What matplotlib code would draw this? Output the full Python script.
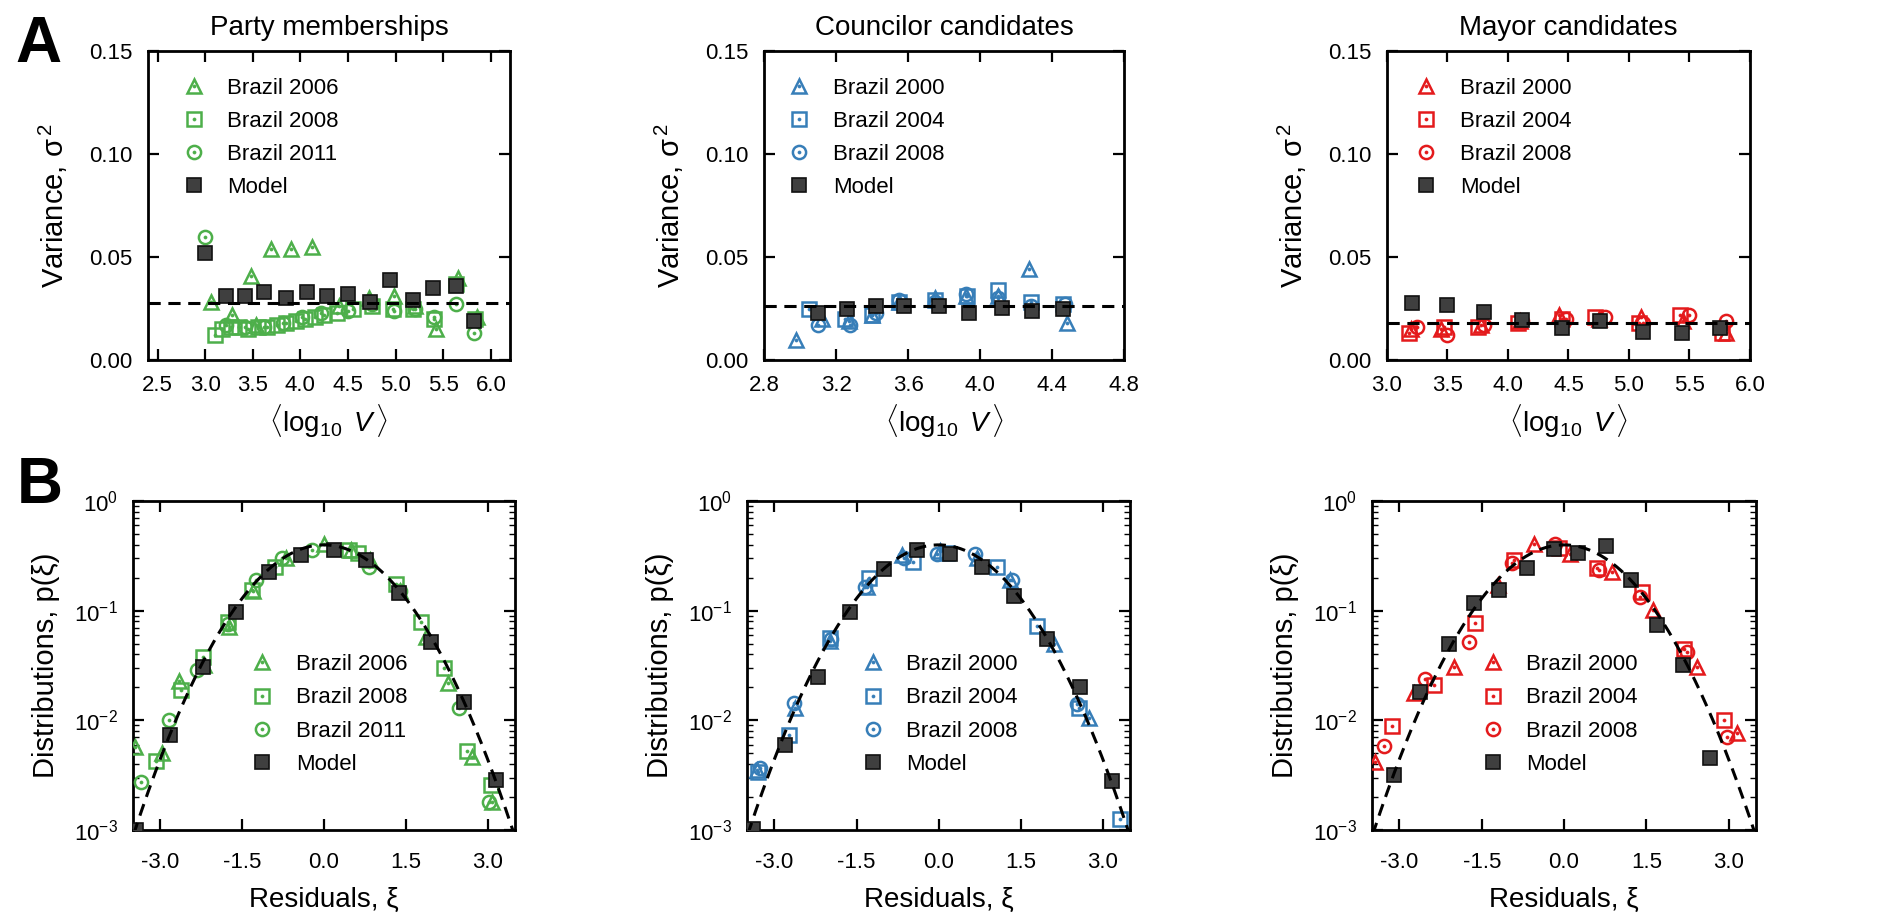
import numpy as np
import matplotlib
matplotlib.use("Agg")
import matplotlib.pyplot as plt
from matplotlib.legend_handler import HandlerTuple
from matplotlib.ticker import FormatStrFormatter, FixedLocator, LogLocator, NullFormatter

plt.rcParams["font.family"] = ["Liberation Sans", "DejaVu Sans"]
plt.rcParams["mathtext.fontset"] = "custom"
plt.rcParams["mathtext.rm"] = "Liberation Sans"
plt.rcParams["mathtext.it"] = "Liberation Sans:italic"
plt.rcParams["mathtext.bf"] = "Liberation Sans:bold"
plt.rcParams["axes.unicode_minus"] = True

GREEN = "#4daf4a"
BLUE = "#377eb8"
RED = "#e41a1c"
MODEL_FACE = "#3f3f3f"

# ---------------- Row A: variance vs <log10 V> ----------------
# Party memberships
party_2006_x = [3.06, 3.28, 3.48, 3.53, 3.69, 3.90, 4.12, 4.40, 4.72, 4.98, 5.20, 5.42, 5.65, 5.85]
party_2006_v = [0.028, 0.022, 0.041, 0.017, 0.054, 0.054, 0.055, 0.026, 0.030, 0.031, 0.026, 0.015, 0.040, 0.021]
party_2008_x = [3.10, 3.18, 3.27, 3.36, 3.45, 3.55, 3.65, 3.75, 3.85, 3.95, 4.05, 4.15, 4.25,
                4.38, 4.55, 4.75, 4.97, 5.18, 5.40, 5.63, 5.83]
party_2008_v = [0.012, 0.015, 0.016, 0.016, 0.015, 0.016, 0.016, 0.017, 0.018, 0.019, 0.020, 0.021, 0.022,
                0.023, 0.025, 0.026, 0.025, 0.025, 0.020, 0.037, 0.020]
party_2011_x = [3.00, 3.22, 3.42, 3.62, 3.82, 4.02, 4.22, 4.50, 4.75, 4.98, 5.20, 5.40, 5.63, 5.82]
party_2011_v = [0.060, 0.017, 0.016, 0.016, 0.018, 0.021, 0.023, 0.024, 0.027, 0.024, 0.025, 0.021, 0.027, 0.013]
party_model_x = [3.00, 3.22, 3.42, 3.62, 3.85, 4.07, 4.28, 4.50, 4.73, 4.94, 5.18, 5.39, 5.63, 5.82]
party_model_v = [0.052, 0.031, 0.031, 0.033, 0.030, 0.033, 0.031, 0.032, 0.028, 0.039, 0.029, 0.035, 0.036, 0.019]
party_mean_v = 0.0277

# Councilor candidates
coun_2000_x = [2.98, 3.12, 3.27, 3.40, 3.55, 3.75, 3.92, 4.10, 4.27, 4.48]
coun_2000_v = [0.0097, 0.020, 0.019, 0.022, 0.028, 0.030, 0.031, 0.031, 0.044, 0.018]
coun_2004_x = [3.05, 3.25, 3.40, 3.55, 3.75, 3.93, 4.10, 4.28, 4.46]
coun_2004_v = [0.025, 0.020, 0.022, 0.028, 0.029, 0.031, 0.034, 0.028, 0.027]
coun_2008_x = [3.10, 3.28, 3.42, 3.55, 3.75, 3.92, 4.10, 4.28, 4.47]
coun_2008_v = [0.017, 0.017, 0.023, 0.029, 0.028, 0.032, 0.030, 0.026, 0.027]
coun_model_x = [3.10, 3.26, 3.42, 3.58, 3.77, 3.94, 4.12, 4.29, 4.46]
coun_model_v = [0.023, 0.025, 0.026, 0.026, 0.026, 0.023, 0.0255, 0.024, 0.025]
coun_mean_v = 0.0262

# Mayor candidates
mayor_2000_x = [3.20, 3.45, 3.78, 4.10, 4.42, 4.75, 5.10, 5.45, 5.80]
mayor_2000_v = [0.015, 0.015, 0.017, 0.019, 0.022, 0.020, 0.021, 0.019, 0.013]
mayor_2004_x = [3.18, 3.47, 3.75, 4.08, 4.45, 4.72, 5.08, 5.42, 5.77]
mayor_2004_v = [0.013, 0.016, 0.016, 0.018, 0.020, 0.021, 0.018, 0.022, 0.013]
mayor_2008_x = [3.25, 3.50, 3.80, 4.12, 4.48, 4.80, 5.12, 5.50, 5.80]
mayor_2008_v = [0.016, 0.012, 0.017, 0.019, 0.020, 0.021, 0.018, 0.022, 0.019]
mayor_model_x = [3.21, 3.50, 3.80, 4.12, 4.45, 4.76, 5.12, 5.44, 5.75]
mayor_model_v = [0.0276, 0.0266, 0.0232, 0.0194, 0.0155, 0.019, 0.0136, 0.013, 0.0155]
mayor_mean_v = 0.0182

# ---------------- Row B: residual distributions ----------------
party_res_2006_x = [-3.46, -2.97, -2.65, -2.20, -1.73, -1.30, -0.70, 0.00, 0.50, 0.85, 1.40, 1.87, 2.27, 2.72, 3.09]
party_res_2006_p = [5.7e-3, 5.0e-3, 0.023, 0.032, 0.071, 0.15, 0.30, 0.41, 0.36, 0.29, 0.15, 0.058, 0.022, 4.6e-3, 1.8e-3]
party_res_2008_x = [-3.08, -2.62, -2.22, -1.75, -1.31, -0.90, 0.46, 0.62, 1.32, 1.78, 2.20, 2.63, 3.06]
party_res_2008_p = [4.3e-3, 0.019, 0.038, 0.079, 0.154, 0.25, 0.357, 0.34, 0.177, 0.079, 0.030, 5.3e-3, 2.6e-3]
party_res_2011_x = [-3.35, -2.83, -2.32, -1.75, -1.25, -0.76, -0.21, 0.83, 1.40, 2.48, 3.03]
party_res_2011_p = [2.75e-3, 0.010, 0.029, 0.075, 0.19, 0.30, 0.357, 0.25, 0.15, 0.013, 1.8e-3]
party_res_model_x = [-3.44, -2.82, -2.22, -1.61, -1.01, -0.42, 0.18, 0.77, 1.38, 1.97, 2.57, 3.16]
party_res_model_p = [1.0e-3, 7.3e-3, 0.0308, 0.098, 0.226, 0.32, 0.357, 0.29, 0.144, 0.052, 0.0148, 2.84e-3]

coun_res_2000_x = [-3.32, -2.62, -1.98, -1.31, -0.67, 0.03, 0.70, 1.30, 2.10, 2.74]
coun_res_2000_p = [3.5e-3, 0.013, 0.053, 0.164, 0.32, 0.35, 0.30, 0.19, 0.05, 0.0105]
coun_res_2004_x = [-3.30, -2.74, -1.98, -1.28, -0.46, 0.15, 1.07, 1.80, 2.56, 3.32]
coun_res_2004_p = [3.4e-3, 7.4e-3, 0.057, 0.20, 0.28, 0.34, 0.25, 0.073, 0.013, 1.27e-3]
coun_res_2008_x = [-3.26, -2.64, -1.96, -1.34, -0.64, -0.03, 0.67, 1.34, 2.53]
coun_res_2008_p = [3.7e-3, 0.0145, 0.055, 0.164, 0.30, 0.33, 0.33, 0.19, 0.014]
coun_res_model_x = [-3.40, -2.80, -2.20, -1.62, -1.00, -0.40, 0.21, 0.79, 1.37, 1.98, 2.59, 3.17]
coun_res_model_p = [1.03e-3, 6.0e-3, 0.025, 0.097, 0.24, 0.356, 0.33, 0.25, 0.137, 0.055, 0.020, 2.77e-3]

mayor_res_2000_x = [-3.45, -2.74, -2.01, -1.20, -0.55, 0.10, 0.87, 1.63, 2.42, 3.15]
mayor_res_2000_p = [4.2e-3, 0.0176, 0.031, 0.17, 0.41, 0.33, 0.227, 0.102, 0.031, 7.6e-3]
mayor_res_2004_x = [-3.13, -2.37, -1.62, -0.92, -0.10, 0.60, 1.42, 2.18, 2.91]
mayor_res_2004_p = [8.8e-3, 0.021, 0.077, 0.29, 0.37, 0.243, 0.149, 0.045, 0.010]
mayor_res_2008_x = [-3.28, -2.53, -1.74, -0.95, -0.16, 0.63, 1.39, 2.24, 2.97]
mayor_res_2008_p = [5.8e-3, 0.024, 0.052, 0.27, 0.41, 0.235, 0.134, 0.042, 7.1e-3]
mayor_res_model_x = [-3.10, -2.62, -2.10, -1.65, -1.19, -0.67, -0.19, 0.26, 0.77, 1.22, 1.69, 2.17, 2.66]
mayor_res_model_p = [3.2e-3, 0.018, 0.050, 0.117, 0.155, 0.243, 0.363, 0.333, 0.389, 0.19, 0.074, 0.032, 4.5e-3]

panels_a = [
    dict(title="Party memberships", color=GREEN,
         series=[("Brazil 2006", "^", party_2006_x, party_2006_v),
                 ("Brazil 2008", "s", party_2008_x, party_2008_v),
                 ("Brazil 2011", "o", party_2011_x, party_2011_v)],
         model=(party_model_x, party_model_v), mean=party_mean_v,
         xlim=(2.4, 6.2), xticks=[2.5, 3.0, 3.5, 4.0, 4.5, 5.0, 5.5, 6.0],
         rect=[0.0784, 0.607, 0.1917, 0.337], leg_x=0.095),
    dict(title="Councilor candidates", color=BLUE,
         series=[("Brazil 2000", "^", coun_2000_x, coun_2000_v),
                 ("Brazil 2004", "s", coun_2004_x, coun_2004_v),
                 ("Brazil 2008", "o", coun_2008_x, coun_2008_v)],
         model=(coun_model_x, coun_model_v), mean=coun_mean_v,
         xlim=(2.8, 4.8), xticks=[2.8, 3.2, 3.6, 4.0, 4.4, 4.8],
         rect=[0.4047, 0.607, 0.1907, 0.337], leg_x=0.067),
    dict(title="Mayor candidates", color=RED,
         series=[("Brazil 2000", "^", mayor_2000_x, mayor_2000_v),
                 ("Brazil 2004", "s", mayor_2004_x, mayor_2004_v),
                 ("Brazil 2008", "o", mayor_2008_x, mayor_2008_v)],
         model=(mayor_model_x, mayor_model_v), mean=mayor_mean_v,
         xlim=(3.0, 6.0), xticks=[3.0, 3.5, 4.0, 4.5, 5.0, 5.5, 6.0],
         rect=[0.7346, 0.607, 0.1923, 0.337], leg_x=0.078),
]

panels_b = [
    dict(color=GREEN,
         series=[("Brazil 2006", "^", party_res_2006_x, party_res_2006_p),
                 ("Brazil 2008", "s", party_res_2008_x, party_res_2008_p),
                 ("Brazil 2011", "o", party_res_2011_x, party_res_2011_p)],
         model=(party_res_model_x, party_res_model_p),
         rect=[0.0704, 0.0939, 0.2023, 0.359], leg_x=0.31),
    dict(color=BLUE,
         series=[("Brazil 2000", "^", coun_res_2000_x, coun_res_2000_p),
                 ("Brazil 2004", "s", coun_res_2004_x, coun_res_2004_p),
                 ("Brazil 2008", "o", coun_res_2008_x, coun_res_2008_p)],
         model=(coun_res_model_x, coun_res_model_p),
         rect=[0.3957, 0.0939, 0.2029, 0.359], leg_x=0.30),
    dict(color=RED,
         series=[("Brazil 2000", "^", mayor_res_2000_x, mayor_res_2000_p),
                 ("Brazil 2004", "s", mayor_res_2004_x, mayor_res_2004_p),
                 ("Brazil 2008", "o", mayor_res_2008_x, mayor_res_2008_p)],
         model=(mayor_res_model_x, mayor_res_model_p),
         rect=[0.7267, 0.0939, 0.2034, 0.359], leg_x=0.285),
]

TICK_FS = 16
TITLE_FS = 20
XLABEL_FS = 20
YLABEL_FS = 21
LEG_FS = 16
MS = 9.5


def style_axes(ax, xpad=11):
    for s in ax.spines.values():
        s.set_linewidth(2.0)
    ax.tick_params(which="major", direction="in", length=8, width=1.6,
                   top=True, right=True, labelsize=TICK_FS, pad=11)
    ax.tick_params(axis="x", which="major", pad=xpad)
    ax.tick_params(which="minor", direction="in", length=4, width=1.0,
                   top=True, right=True)


def draw_series(ax, color, series, model):
    handles = []
    for label, marker, xs, ys in series:
        h1, = ax.plot(xs, ys, linestyle="none", marker=marker, markersize=MS,
                      markerfacecolor="none", markeredgecolor=color,
                      markeredgewidth=1.8, zorder=3)
        h2, = ax.plot(xs, ys, linestyle="none", marker="o", markersize=2.2,
                      markerfacecolor=color, markeredgecolor=color,
                      markeredgewidth=0.5, zorder=3)
        handles.append(((h1, h2), label))
    hm, = ax.plot(model[0], model[1], linestyle="none", marker="s",
                  markersize=MS + 0.5, markerfacecolor=MODEL_FACE,
                  markeredgecolor="#111111", markeredgewidth=1.2, zorder=4)
    handles.append((hm, "Model"))
    return handles


def add_legend(ax, handles, anchor):
    ax.legend([h for h, _ in handles], [l for _, l in handles],
              handler_map={tuple: HandlerTuple(ndivide=1)},
              loc="upper left", bbox_to_anchor=anchor, frameon=False,
              fontsize=LEG_FS, handlelength=1.0, handletextpad=1.0,
              labelspacing=0.55, borderaxespad=0.0, borderpad=0.0)


fig = plt.figure(figsize=(18.88, 9.16), dpi=100)

for p in panels_a:
    ax = fig.add_axes(p["rect"])
    handles = draw_series(ax, p["color"], p["series"], p["model"])
    ax.axhline(p["mean"], color="black", linestyle=(0, (4, 2.5)), linewidth=2.2, zorder=5)
    ax.set_xlim(*p["xlim"])
    ax.set_ylim(0.0, 0.15)
    ax.xaxis.set_major_locator(FixedLocator(p["xticks"]))
    ax.yaxis.set_major_locator(FixedLocator([0.0, 0.05, 0.10, 0.15]))
    ax.xaxis.set_major_formatter(FormatStrFormatter("%.1f"))
    ax.yaxis.set_major_formatter(FormatStrFormatter("%.2f"))
    style_axes(ax)
    ax.set_title(p["title"], fontsize=TITLE_FS, pad=12)
    ax.set_xlabel(r"$\langle\log_{10}\ V\,\rangle$", fontsize=XLABEL_FS, labelpad=4)
    ax.set_ylabel("Variance, σ$^{\\,2}$", fontsize=YLABEL_FS, labelpad=14)
    add_legend(ax, handles, (p["leg_x"], 0.915))

xs_curve = np.linspace(-3.6, 3.6, 400)
gauss_curve = np.exp(-xs_curve ** 2 / 2.0) / np.sqrt(2.0 * np.pi)

for p in panels_b:
    ax = fig.add_axes(p["rect"])
    handles = draw_series(ax, p["color"], p["series"], p["model"])
    ax.plot(xs_curve, gauss_curve, color="black", linestyle=(0, (4, 2.5)),
            linewidth=2.2, zorder=5)
    ax.set_yscale("log")
    ax.set_xlim(-3.5, 3.5)
    ax.set_ylim(1e-3, 1.0)
    ax.xaxis.set_major_locator(FixedLocator([-3.0, -1.5, 0.0, 1.5, 3.0]))
    ax.xaxis.set_major_formatter(FormatStrFormatter("%.1f"))
    ax.yaxis.set_major_locator(LogLocator(base=10, numticks=10))
    ax.yaxis.set_minor_locator(LogLocator(base=10, subs=np.arange(2, 10), numticks=10))
    ax.yaxis.set_minor_formatter(NullFormatter())
    style_axes(ax, xpad=16)
    ax.set_xlabel("Residuals, ξ", fontsize=XLABEL_FS, labelpad=10)
    ax.set_ylabel("Distributions, p(ξ)", fontsize=YLABEL_FS, labelpad=10)
    add_legend(ax, handles, (p["leg_x"], 0.535))

fig.text(0.008, 0.984, "A", fontsize=46, fontweight="bold", va="top", ha="left")
fig.text(0.009, 0.502, "B", fontsize=46, fontweight="bold", va="top", ha="left")

fig.savefig("out.png", dpi=100)
